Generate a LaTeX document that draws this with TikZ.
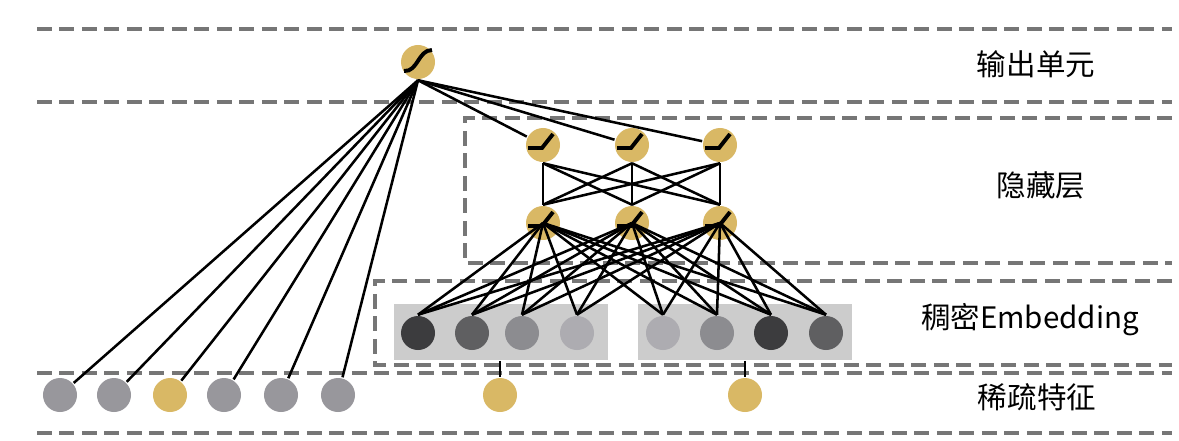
\documentclass[tikz,border=0pt]{standalone}
\usepackage{fontspec}
\newfontfamily\cjk{Noto Sans CJK SC}
\usepackage{tikz}
\usetikzlibrary{positioning}
\definecolor{gold}{RGB}{217,184,101}
\definecolor{sepgray}{RGB}{118,118,118}
\definecolor{boxgray}{RGB}{204,204,204}
\definecolor{sparsegray}{RGB}{152,151,156}
\definecolor{embA}{RGB}{60,60,62}
\definecolor{embB}{RGB}{95,95,97}
\definecolor{embC}{RGB}{140,140,144}
\definecolor{embD}{RGB}{173,172,177}
\tikzset{every picture/.style={line width=1.8pt},
unit/.style={circle,fill=#1,minimum size=0.85cm,inner sep=0pt},
grp/.style={fill=boxgray,minimum height=1.375cm,inner sep=0pt},
sep/.style={sepgray,line width=2.6pt,dash pattern=on 10.5pt off 5.5pt},
symb/.style={line width=2.8pt},
layername/.style={font=\cjk\fontsize{21}{24}\selectfont}}

\begin{document}
\begin{tikzpicture}[x=0.025cm,y=-0.025cm]
\useasboundingbox (0,0) rectangle (1179,441);
\draw[sep] (37,29) -- (1172,29);
\draw[sep] (37,102) -- (1172,102);
\draw[sep] (1172,118) -- (465,118) -- (465,263) -- (1172,263);
\draw[sep] (1172,281) -- (375,281) -- (375,365) -- (1172,365);
\draw[sep] (37,373) -- (1172,373);
\draw[sep] (37,433) -- (1172,433);
\node (grpL) at (501,332) [grp,minimum width=5.33cm] {};
\node (grpR) at (745,332) [grp,minimum width=5.35cm] {};
\node (out) at (418,62) [unit=gold] {};
\foreach \x [count=\i] in {543,632,720}{
\node (h2-\i) at (\x,145) [unit=gold] {};
\node (h1-\i) at (\x,223) [unit=gold] {};
}
\foreach \x/\c [count=\i] in {418/embA,472/embB,522/embC,577/embD,663/embD,717/embC,771/embA,826/embB}{
\node (e\i) at (\x,333) [unit=\c] {};
}
\foreach \x/\c [count=\i] in {60/sparsegray,114/sparsegray,170/gold,224/sparsegray,281/sparsegray,338/sparsegray,500/gold,745/gold}{
\node (s\i) at (\x,395) [unit=\c] {};
}
\foreach \i in {1,...,6}{
\draw (out.south) -- (s\i);
}
\foreach \i in {1,2,3}{
\draw (out.south) -- (h2-\i);
\foreach \j in {1,2,3}{
\draw (h2-\i.south) -- (h1-\j.north);
}
\foreach \j in {1,...,8}{
\draw (h1-\i.center) -- (e\j.north);
}
}
\draw (grpL.south -| s7) -- (s7);
\draw (grpR.south -| s8) -- (s8);
\begin{scope}[shift={(out.center)}]
\draw[symb] (-14,9) .. controls (0,10) and (0,-12) .. (14,-12);
\end{scope}
\foreach \n in {h2-1,h2-2,h2-3,h1-1,h1-2,h1-3}{
\draw[symb] (\n.center) ++(-15,3) -- ++(14,0) -- ++(11,-14);
}
\node (lout) at (1036,64) [layername] {输出单元};
\node (lhid) at (1041,185) [layername] {隐藏层};
\node (lemb) at (1030,320) [layername] {稠密Embedding};
\node (lspa) at (1037,397) [layername] {稀疏特征};
\end{tikzpicture}
\end{document}
